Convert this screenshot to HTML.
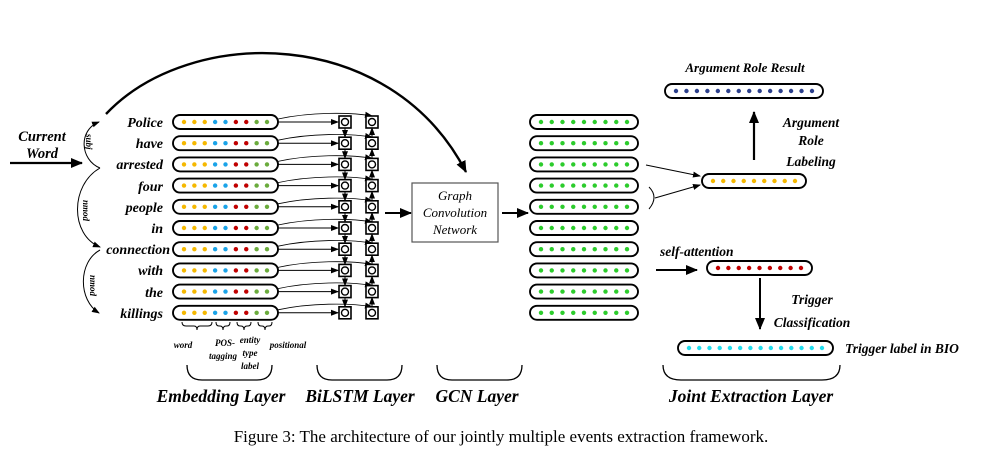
<!DOCTYPE html>
<html><head><meta charset="utf-8"><style>
html,body{margin:0;padding:0;background:#fff;}
svg{display:block;}
text{font-family:"Liberation Serif",serif;}
.b{font-weight:bold;font-style:italic;}
</style></head><body>
<svg id="s" width="1003" height="463" viewBox="0 0 1003 463" xmlns="http://www.w3.org/2000/svg">
<defs>
<marker id="a" markerWidth="8" markerHeight="8" refX="7" refY="4" orient="auto" markerUnits="userSpaceOnUse"><path d="M0,1 L8,4 L0,7 z" fill="#000"/></marker>
<marker id="A" markerWidth="12" markerHeight="12" refX="11" refY="6" orient="auto" markerUnits="userSpaceOnUse"><path d="M0,1 L12,6 L0,11 z" fill="#000"/></marker>
</defs>
<g id="shapes"></g>
<text class="b" x="42" y="141" font-size="14.5" text-anchor="middle">Current</text>
<text class="b" x="42" y="158" font-size="14.5" text-anchor="middle">Word</text>
<line x1="10" y1="163" x2="82" y2="163" stroke="#000" stroke-width="2.2" marker-end="url(#A)"/>
<path d="M100,168 C80,160 78,130 99,122" fill="none" stroke="#000" stroke-width="1" marker-end="url(#a)"/>
<path d="M100,168 C70,185 70,235 100,247" fill="none" stroke="#000" stroke-width="1" marker-end="url(#a)"/>
<path d="M100,250 C78,262 78,300 99,313" fill="none" stroke="#000" stroke-width="1" marker-end="url(#a)"/>
<text class="b" font-size="9" transform="translate(86,134) rotate(90)">subj</text>
<text class="b" font-size="9" transform="translate(83,200) rotate(90)">nmod</text>
<text class="b" font-size="9" transform="translate(90,275) rotate(90)">nmod</text>
<path d="M106,114 C190,25 390,25 466,172" fill="none" stroke="#000" stroke-width="2.4" marker-end="url(#A)"/>
<g class="b" font-size="14" text-anchor="end">
<text x="163" y="127">Police</text>
<text x="163" y="148">have</text>
<text x="163" y="169">arrested</text>
<text x="163" y="191">four</text>
<text x="163" y="212">people</text>
<text x="163" y="233">in</text>
<text x="170" y="254">connection</text>
<text x="163" y="275">with</text>
<text x="163" y="297">the</text>
<text x="163" y="318">killings</text>
</g>
<g fill="none" stroke="#000" stroke-width="1">
<path d="M182,322 q0,4 4,4 h8 q3,0 3,4 q0,-4 3,-4 h8 q4,0 4,-4"/>
<path d="M216,322 q0,4 3,4 h1 q3,0 3,4 q0,-4 3,-4 h1 q3,0 3,-4"/>
<path d="M237,322 q0,4 3,4 h1 q3,0 3,4 q0,-4 3,-4 h1 q3,0 3,-4"/>
<path d="M258,322 q0,4 3,4 h1 q3,0 3,4 q0,-4 3,-4 h1 q3,0 3,-4"/>
</g>
<g class="b" font-size="9" text-anchor="middle">
<text x="183" y="348">word</text>
<text x="225" y="346">POS-</text>
<text x="223" y="359">tagging</text>
<text x="250" y="343">entity</text>
<text x="250" y="356">type</text>
<text x="250" y="369">label</text>
<text x="288" y="348">positional</text>
</g>
<g fill="none" stroke="#000" stroke-width="1.3">
<path d="M187,365 q0,15 15,15 h55 q15,0 15,-15"/>
<path d="M317,365 q0,15 15,15 h55 q15,0 15,-15"/>
<path d="M437,365 q0,15 15,15 h55 q15,0 15,-15"/>
<path d="M663,365 q0,15 18,15 h141 q18,0 18,-15"/>
</g>
<g class="b" font-size="17.5" text-anchor="middle">
<text x="221" y="402">Embedding Layer</text>
<text x="360" y="402">BiLSTM Layer</text>
<text x="477" y="402">GCN Layer</text>
<text x="751" y="402">Joint Extraction Layer</text>
</g>
<text x="501" y="442" font-size="17" text-anchor="middle">Figure 3: The architecture of our jointly multiple events extraction framework.</text>
<line x1="385" y1="213" x2="411" y2="213" stroke="#000" stroke-width="2" marker-end="url(#A)"/>
<rect x="412" y="183" width="86" height="59" fill="#fff" stroke="#555" stroke-width="1.2"/>
<g font-size="13" font-style="italic" text-anchor="middle">
<text x="455" y="200">Graph</text>
<text x="455" y="217">Convolution</text>
<text x="455" y="234">Network</text>
</g>
<line x1="502" y1="213" x2="528" y2="213" stroke="#000" stroke-width="2" marker-end="url(#A)"/>
<text class="b" x="745" y="72" font-size="13" text-anchor="middle">Argument Role Result</text>
<line x1="754" y1="160" x2="754" y2="112" stroke="#000" stroke-width="2.2" marker-end="url(#A)"/>
<g class="b" font-size="13.5" text-anchor="middle">
<text x="811" y="127">Argument</text>
<text x="811" y="145">Role</text>
<text x="811" y="166">Labeling</text>
<text x="812" y="304">Trigger</text>
<text x="812" y="327">Classification</text>
</g>
<line x1="646" y1="165" x2="700" y2="176" stroke="#000" stroke-width="1" marker-end="url(#a)"/>
<path d="M649,187 q10,10 0,22" fill="none" stroke="#000" stroke-width="1"/>
<line x1="655" y1="198" x2="700" y2="185" stroke="#000" stroke-width="1" marker-end="url(#a)"/>
<text class="b" x="660" y="256" font-size="13.5">self-attention</text>
<line x1="656" y1="270" x2="697" y2="270" stroke="#000" stroke-width="2" marker-end="url(#A)"/>
<line x1="760" y1="278" x2="760" y2="329" stroke="#000" stroke-width="2" marker-end="url(#A)"/>
<text class="b" x="845" y="353" font-size="13.5">Trigger label in BIO</text>
</svg>
<script>
var g=document.getElementById('shapes'),NS='http://www.w3.org/2000/svg';
function el(t,a){var e=document.createElementNS(NS,t);for(var k in a)e.setAttribute(k,a[k]);g.appendChild(e);return e;}
function pill(x1,x2,cy,cols){el('rect',{x:x1,y:cy-7,width:x2-x1,height:14,rx:7,fill:'#fff',stroke:'#000','stroke-width':1.9});
 var n=cols.length,s=x1+11,e=x2-11;for(var i=0;i<n;i++)el('circle',{cx:s+(e-s)*i/(n-1),cy:cy,r:2.2,fill:cols[i]});}
var O='#f5b800',B='#1aa3e8',R='#c00000',G='#6aab3c',GG='#2ccc2c';
var emb=[O,O,O,B,B,R,R,G,G];
for(var i=0;i<10;i++){var y=122+i*21.2;
 pill(173,278,y,emb);
 pill(530,638,y,[GG,GG,GG,GG,GG,GG,GG,GG,GG]);
 el('line',{x1:278,y1:y,x2:338,y2:y,stroke:'#000','stroke-width':1,'marker-end':'url(#a)'});
 el('path',{d:'M278,'+(y-3)+' C310,'+(y-10)+' 350,'+(y-10)+' 372,'+(y-6),fill:'none',stroke:'#000','stroke-width':0.8,'marker-end':'url(#a)'});
 [345,372].forEach(function(cx){el('rect',{x:cx-6,y:y-6,width:12,height:12,fill:'#fff',stroke:'#000','stroke-width':1.6});el('circle',{cx:cx,cy:y,r:3.5,fill:'#fff',stroke:'#000','stroke-width':1.4});});
 if(i<9){el('line',{x1:345,y1:y+6,x2:345,y2:y+15,stroke:'#000','stroke-width':1,'marker-end':'url(#a)'});
  el('line',{x1:372,y1:y+15.2,x2:372,y2:y+6,stroke:'#000','stroke-width':1,'marker-end':'url(#a)'});}
}
var nb=[],nc=[],ny=[],nr=[];for(var i=0;i<14;i++){nb.push('#2b3f8c');nc.push('#22ddee');}
for(var i=0;i<9;i++){ny.push(O);nr.push(R);}
pill(665,823,91,nb);pill(702,806,181,ny);pill(707,812,268,nr);pill(678,833,348,nc);
</script>
</body></html>
